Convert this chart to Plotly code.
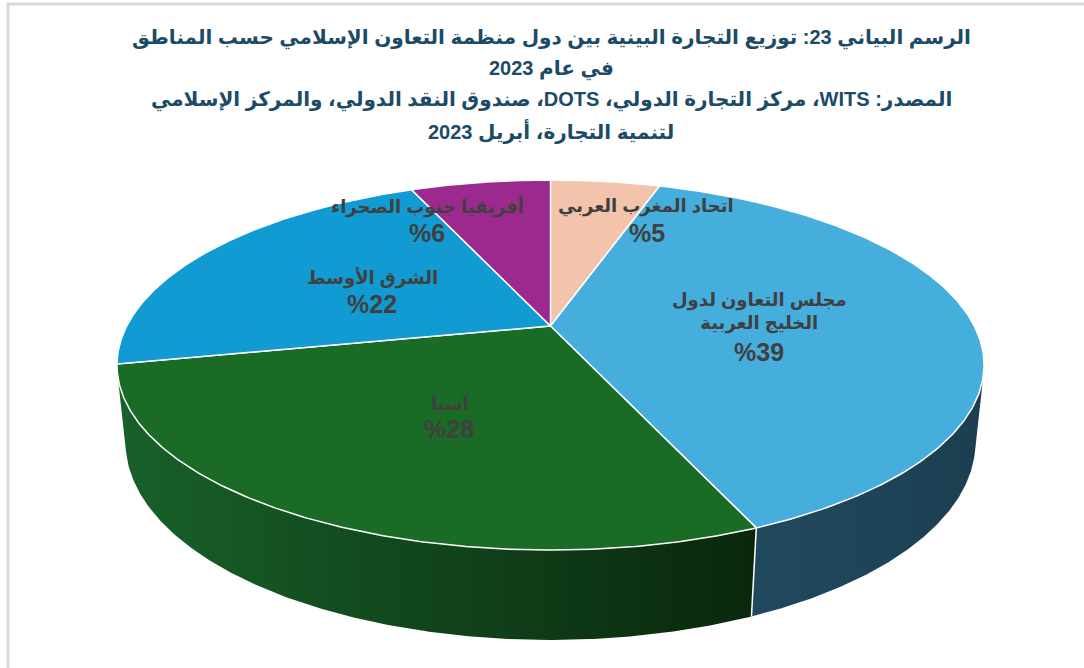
import numpy as np
import plotly.graph_objects as go

# ---------------- data ----------------
regions = ["اتحاد المغرب العربي", "مجلس التعاون لدول<br>الخليج العربية", "آسيا", "الشرق الأوسط", "أفريقيا جنوب الصحراء"]
shares = [5.0, 38.6, 28.1, 21.9, 6.4]

title_lines = [
    "الرسم البياني 23: توزيع التجارة البينية بين دول منظمة التعاون الإسلامي حسب المناطق",
    "في عام 2023",
    "المصدر: WITS، مركز التجارة الدولي، DOTS، صندوق النقد الدولي، والمركز الإسلامي",
    "لتنمية التجارة، أبريل 2023",
]

# ---------------- style ----------------
top_colors = ["#F3C4AB", "#45AEDD", "#1A6B25", "#129AD3", "#9C2A8E"]
side_colors = [("#C9A08C", "#B89080"), ("#21495E", "#1B3F51"), ("#18612A", "#0A270C"),
               ("#0E6E97", "#0B5A7C"), ("#6E1E65", "#5A1853")]
name_pos = [(646, 206), (759, 312), (450, 403), (372, 278), (427, 206)]
pct_pos = [(647, 233), (759, 352), (449, 429), (372, 304), (427, 233)]
title_y = [38, 69, 100, 131]
TITLE_COLOR = "#1B4B66"
LABEL_COLOR = "#404040"
FONT = "Liberation Sans, Arial, DejaVu Sans"

# perspective projection of the pie disk (radius 1) onto the page
CX, CY = 550.5, 326.0
F = 1827.0
L = 4.311
S_PHI = 0.4172
C_PHI = np.sqrt(1 - S_PHI ** 2)
H = 0.20


def project(theta, z):
    u = np.sin(theta)
    v = np.cos(theta)
    d = L + v * C_PHI - z * S_PHI
    return CX + F * u / d, CY - F * (v * S_PHI + z * C_PHI) / d


vals = np.array(shares, dtype=float)
cum = np.concatenate([[0], np.cumsum(vals)]) / vals.sum() * 2 * np.pi

fig = go.Figure()

# visible (front-facing) part of the cylinder wall
v_sil = -1.0 / (L * C_PHI)
th_a = np.arccos(v_sil)
th_b = 2 * np.pi - th_a

# sides (extrusion), clipped to the front-facing arc
for i in range(len(vals)):
    a0, a1 = max(cum[i], th_a), min(cum[i + 1], th_b)
    if a1 <= a0:
        continue
    t = np.linspace(a0, a1, 200)
    xt, yt = project(t, 0.0)
    xb, yb = project(t[::-1], -H)
    xs = np.concatenate([xt, xb, xt[:1]])
    ys = np.concatenate([yt, yb, yt[:1]])
    fig.add_trace(go.Scatter(
        x=xs, y=ys, mode="lines", fill="toself",
        line=dict(width=0, color=side_colors[i][1]),
        fillgradient=dict(type="horizontal",
                          colorscale=[[0, side_colors[i][0]], [1, side_colors[i][1]]]),
        hoverinfo="skip", showlegend=False))

# visible vertical edges at slice boundaries
for b in cum[:-1]:
    if th_a < b < th_b:
        x0, y0 = project(np.array([b]), 0.0)
        x1, y1 = project(np.array([b]), -H)
        fig.add_trace(go.Scatter(x=[x0[0], x1[0]], y=[y0[0], y1[0]], mode="lines",
                                 line=dict(color="white", width=1.5),
                                 hoverinfo="skip", showlegend=False))

# top surfaces
for i in range(len(vals)):
    t = np.linspace(cum[i], cum[i + 1], 240)
    xt, yt = project(t, 0.0)
    xs = np.concatenate([[CX], xt, [CX]])
    ys = np.concatenate([[CY], yt, [CY]])
    fig.add_trace(go.Scatter(
        x=xs, y=ys, mode="lines", fill="toself", fillcolor=top_colors[i],
        line=dict(color="white", width=1.5),
        hoverinfo="skip", showlegend=False))

# data labels: category name and percentage
for i, name in enumerate(regions):
    nx, ny = name_pos[i]
    fig.add_annotation(x=nx, y=ny, xref="x", yref="y", showarrow=False,
                       text="<b>" + name + "</b>",
                       font=dict(family=FONT, size=18, color=LABEL_COLOR),
                       align="center", xanchor="center", yanchor="middle")
    px_, py_ = pct_pos[i]
    fig.add_annotation(x=px_, y=py_, xref="x", yref="y", showarrow=False,
                       text="<b>%" + f"{round(shares[i]):.0f}" + "</b>",
                       font=dict(family=FONT, size=25, color=LABEL_COLOR),
                       align="center", xanchor="center", yanchor="middle")

# title lines
for line, ty in zip(title_lines, title_y):
    fig.add_annotation(x=551, y=ty, xref="x", yref="y", showarrow=False,
                       text="<b>\u202b" + line + "\u202c</b>",
                       font=dict(family=FONT, size=20, color=TITLE_COLOR),
                       xanchor="center", yanchor="middle")

# frame
fig.add_shape(type="rect", xref="x", yref="y", x0=8, y0=4, x1=1095, y1=680,
              line=dict(color="#D9D9D9", width=3), fillcolor="rgba(0,0,0,0)", layer="below")

fig.update_layout(
    width=1084, height=668,
    margin=dict(l=0, r=0, t=0, b=0),
    paper_bgcolor="white", plot_bgcolor="white",
    xaxis=dict(range=[0, 1084], visible=False, fixedrange=True),
    yaxis=dict(range=[668, 0], visible=False, fixedrange=True),
    showlegend=False,
)

fig.write_html("out.html", config={"displayModeBar": False},
               post_script="document.body.style.margin='0';")
